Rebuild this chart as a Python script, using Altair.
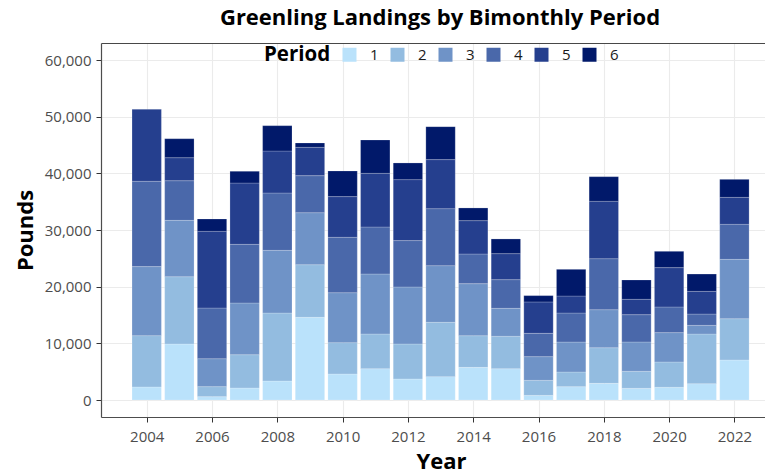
import altair as alt
import pandas as pd

years = list(range(2004, 2023))
periods = ["1", "2", "3", "4", "5", "6"]
p1 = [2300, 9880, 590, 2120, 3350, 14590, 4590, 5530, 3710, 4120, 5760, 5530, 820, 2350, 2940, 2060, 2240, 2880, 7060]
p2 = [9060, 11880, 1765, 5880, 12000, 9290, 5530, 6120, 6180, 9590, 5590, 5710, 2650, 2590, 6290, 3000, 4470, 8760, 7290]
p3 = [12180, 9940, 4940, 9120, 11060, 9180, 8820, 10590, 10060, 10000, 9180, 4940, 4180, 5290, 6710, 5180, 5180, 1530, 10470]
p4 = [15060, 7000, 8940, 10350, 10120, 6530, 9770, 8290, 8180, 10060, 5240, 5060, 4120, 5120, 9000, 4820, 4530, 2000, 6180]
p5 = [12700, 4060, 13530, 10820, 7410, 5000, 7180, 9470, 10760, 8650, 5880, 4590, 5530, 3000, 10120, 2710, 6940, 4000, 4760]
p6 = [0, 3350, 2180, 2060, 4470, 765, 4530, 5880, 2940, 5820, 2240, 2590, 1120, 4710, 4350, 3410, 2880, 3060, 3180]
colors = ["#BAE2FB", "#93BCE0", "#6F93C7", "#4A68AA", "#253F8E", "#01196A"]
y_ticks = [0, 10000, 20000, 30000, 40000, 50000, 60000]
x_ticks = [2004, 2006, 2008, 2010, 2012, 2014, 2016, 2018, 2020, 2022]

rows = []
for per, vals in zip(periods, [p1, p2, p3, p4, p5, p6]):
    for yr, v in zip(years, vals):
        if v > 0:
            rows.append({"Year": yr, "Period": per, "Pounds": v})
df = pd.DataFrame(rows)

FONT = "Open Sans"
x_scale = alt.Scale(domain=[2002.60, 2022.937], nice=False, zero=False)
y_scale = alt.Scale(domain=[-3000, 63000], nice=False, zero=False)

base = (
    alt.Chart(df)
    .transform_stack(
        stack="Pounds",
        groupby=["Year"],
        as_=["y0", "y1"],
        sort=[alt.SortField("Period", order="ascending")],
    )
    .transform_calculate(xa="datum.Year - 0.45", xb="datum.Year + 0.45")
)

bars = base.mark_bar(stroke="white", strokeWidth=0.4, strokeOpacity=0.5).encode(
    x=alt.X(
        "xa:Q",
        scale=x_scale,
        axis=alt.Axis(
            values=x_ticks, format="d", title="Year",
            labelFont=FONT, labelFontSize=15, labelColor="#4d4d4d",
            labelPadding=7, tickSize=5, tickColor="#333333",
            labelFlush=False, labelOverlap=False,
            domainColor="#4d4d4d", domainWidth=1.2,
            grid=True, gridColor="#ebebeb", gridWidth=1.1,
            titleFont=FONT, titleFontSize=22, titleFontWeight="bold", titleColor="black",
            titleX=340, titleY=51, titleBaseline="alphabetic", titleAlign="center",
        ),
    ),
    x2="xb:Q",
    y=alt.Y(
        "y0:Q",
        scale=y_scale,
        axis=alt.Axis(
            values=y_ticks, format=",d", title="Pounds",
            labelFont=FONT, labelFontSize=15, labelColor="#4d4d4d",
            labelPadding=5, tickSize=5, tickColor="#333333",
            domainColor="#4d4d4d", domainWidth=1.2,
            grid=True, gridColor="#ebebeb", gridWidth=1.1,
            titleFont=FONT, titleFontSize=22, titleFontWeight="bold", titleColor="black",
            titleX=-69, titleY=187, titleAngle=270, titleBaseline="alphabetic", titleAlign="center",
        ),
    ),
    y2="y1:Q",
    color=alt.Color(
        "Period:N",
        scale=alt.Scale(domain=periods, range=colors),
        legend=alt.Legend(
            orient="none", legendX=163, legendY=4, direction="horizontal",
            title="Period", titleOrient="left", titleFont=FONT, titleFontSize=20.5,
            titleFontWeight="bold", titleColor="black", titlePadding=11,
            labelFont=FONT, labelFontSize=15, labelColor="#1a1a1a", labelOffset=13,
            columnPadding=11, symbolType="square", symbolSize=196,
            symbolStrokeWidth=0, symbolOpacity=1,
        ),
    ),
)

top_border = base.mark_rule(opacity=0).encode(
    x=alt.X(
        "xa:Q",
        scale=x_scale,
        axis=alt.Axis(
            orient="top", labels=False, ticks=False, grid=False, title=None,
            domain=True, domainColor="#333333", domainWidth=0.9,
        ),
    ),
)

chart = (
    alt.layer(bars, top_border)
    .resolve_axis(x="independent")
    .properties(
        width=664,
        height=374,
        padding={"left": 93, "top": 35, "right": 0, "bottom": 60},
        autosize="none",
        title=alt.TitleParams(
            "Greenling Landings by Bimonthly Period",
            font=FONT, fontSize=22, fontWeight="bold", color="black",
            anchor="middle", offset=17, dy=21, dx=7, baseline="alphabetic",
        ),
    )
    .configure_view(stroke=None)
)

chart.save("out.html", embed_options={"renderer": "svg", "actions": False})
